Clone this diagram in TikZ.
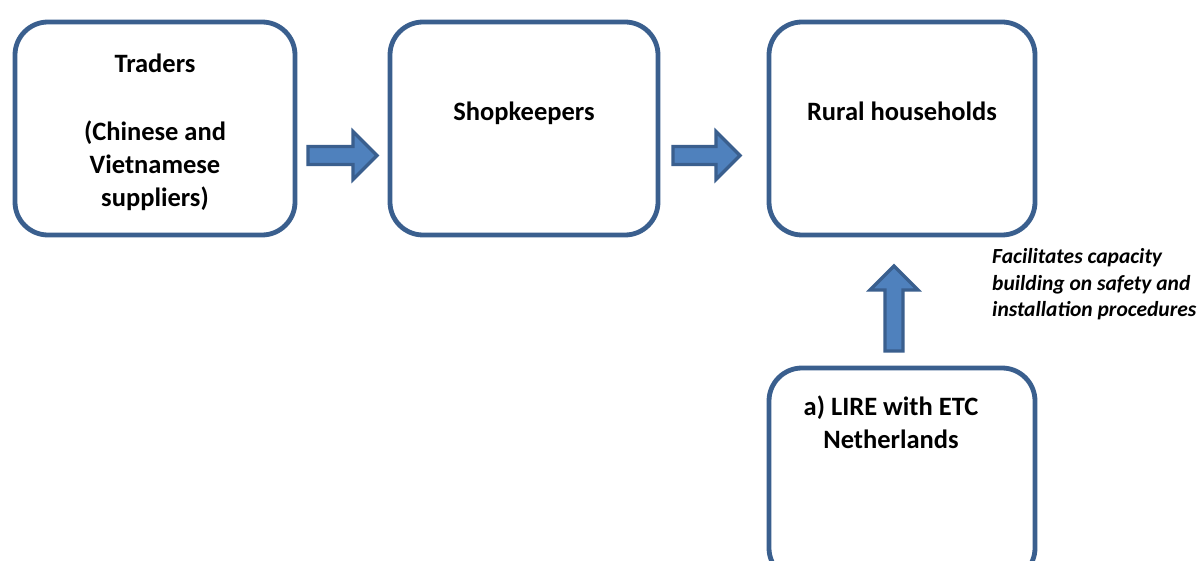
\documentclass[tikz,border=0pt]{standalone}
\usepackage{fontspec}
\setmainfont{Carlito}
\usetikzlibrary{calc}

\definecolor{edgeblue}{HTML}{3A5F8E}
\definecolor{fillblue}{HTML}{4F81BD}

% block arrow drawn from coordinate #1 to its tip at coordinate #2
\newcommand{\blockarrow}[2]{%
  \draw[blockarr]
    ($(#1)!9pt!90:(#2)$) --
    ($($(#2)!24pt!(#1)$)!9pt!-90:(#1)$) --
    ($($(#2)!24pt!(#1)$)!24pt!-90:(#1)$) --
    (#2) --
    ($($(#2)!24pt!(#1)$)!24pt!90:(#1)$) --
    ($($(#2)!24pt!(#1)$)!9pt!90:(#1)$) --
    ($(#1)!9pt!-90:(#2)$) -- cycle;}

\begin{document}
\begin{tikzpicture}[x=1pt,y=-1pt,
  box/.style={draw=edgeblue, line width=4.8pt, rounded corners=33pt,
    fill=white, inner sep=0pt, outer sep=0pt, minimum height=213pt},
  label text/.style={font=\bfseries\fontsize{26.5}{33}\selectfont,
    align=center, anchor=base, inner sep=0pt},
  note text/.style={font=\bfseries\itshape\fontsize{21.5}{26.7}\selectfont,
    align=left, anchor=base west, inner sep=0pt},
  blockarr/.style={draw=edgeblue, fill=fillblue, line width=3.2pt,
    line join=miter}]
\clip (0,0) rectangle (1197,561);
\fill[white] (0,0) rectangle (1197,561);

% boxes
\node[box, minimum width=280pt] (traders) at (155,128.5) {};
\node[box, minimum width=268pt] (shop) at (524,128.5) {};
\node[box, minimum width=266pt] (rural) at (902,128.5) {};
\node[box, minimum width=266pt] (lire) at (902,474.5) {};

% box texts (a multi-line node sits on the baseline of its last line)
\node[label text] (tradersT) at ($(traders.north)+(0,185)$)
  {Traders\\[35pt](Chinese and\\Vietnamese\\suppliers)};
\node[label text] (shopT) at ($(shop.north)+(0,99)$) {Shopkeepers};
\node[label text] (ruralT) at ($(rural.north)+(0,99)$) {Rural households};
\node[label text] (lireT) at ($(lire.north)+(-11,80)$)
  {a) LIRE with ETC\\Netherlands};

% note beside the vertical arrow
\node[note text] (note) at (992,317)
  {Facilitates capacity\\building on safety and\\installation procedures};

% arrow end points
\coordinate (a1s) at ($(traders.east)+(13,27)$);
\coordinate (a1e) at ($(shop.west)+(-13,27)$);
\coordinate (a2s) at ($(shop.east)+(15,27)$);
\coordinate (a2e) at ($(rural.west)+(-29,27)$);
\coordinate (a3s) at ($(lire.north)+(-8,-17)$);
\coordinate (a3e) at ($(rural.south)+(-8,31)$);

\blockarrow{a1s}{a1e}
\blockarrow{a2s}{a2e}
\blockarrow{a3s}{a3e}
\end{tikzpicture}
\end{document}
